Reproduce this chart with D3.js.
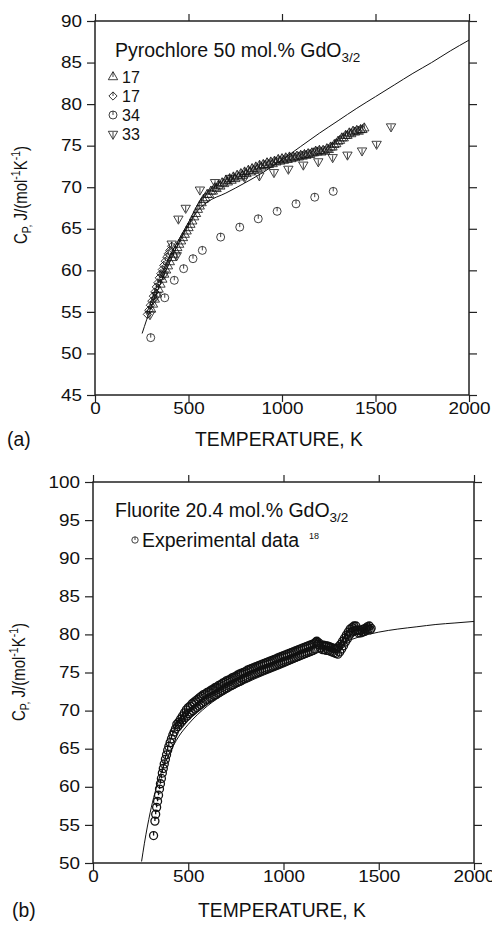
<!DOCTYPE html>
<html><head><meta charset="utf-8">
<script src="https://cdn.jsdelivr.net/npm/d3@7"></script>
<style>
html,body{margin:0;padding:0;background:#fff;}
svg{display:block;font-family:"Liberation Sans",Arial,Helvetica,sans-serif;}
</style></head>
<body>
<svg id="chart" width="492" height="925"></svg>
<script>
// ---------------- DATA ----------------
const xTicks = [0, 500, 1000, 1500, 2000];
const yTicksA = [45, 50, 55, 60, 65, 70, 75, 80, 85, 90];
const yTicksB = [50, 55, 60, 65, 70, 75, 80, 85, 90, 95, 100];

// (a) Pyrochlore 50 mol.% GdO3/2 — model curve [T, Cp]
const curveA = [[252,52.4],[300,55.6],[350,58.4],[400,61.0],[450,63.4],[500,65.5],[550,67.2],[600,68.2],[700,69.3],[800,70.5],[900,71.8],[1000,73.3],[1100,74.9],[1200,76.5],[1300,78.0],[1400,79.5],[1500,80.9],[1600,82.3],[1700,83.7],[1800,85.0],[1900,86.4],[2000,87.7]];
// ref 17 (up triangles)
const ref17tri = [[300,55.3],[310,55.9],[320,56.5],[330,57.1],[340,57.7],[350,58.3],[360,58.9],[370,59.5],[380,60.0],[390,60.5],[400,61.0],[410,61.5],[420,61.9],[430,62.3],[440,62.7],[450,63.1],[460,63.5],[470,63.9],[480,64.3],[490,64.7],[500,65.1],[510,65.5],[520,65.9],[530,66.4],[540,66.8],[550,67.3],[560,67.7],[570,68.1],[580,68.5],[590,68.7],[600,69.1],[610,69.1],[620,69.5],[630,69.5],[640,69.9],[650,69.8],[660,70.2],[670,70.1],[680,70.5],[690,70.4],[700,70.8],[710,70.6],[720,71.0],[730,70.8],[740,71.2],[750,71.0],[760,71.4],[770,71.2],[780,71.6],[790,71.4],[800,71.8],[810,71.6],[820,72.0],[830,71.8],[840,72.2],[850,72.0],[860,72.4],[870,72.2],[880,72.6],[890,72.4],[900,72.7],[910,72.6],[920,72.9],[930,72.7],[940,73.0],[950,72.8],[960,73.1],[970,73.0],[980,73.3],[990,73.1],[1000,73.4],[1010,73.2],[1020,73.5],[1030,73.3],[1040,73.6],[1050,73.4],[1060,73.6],[1070,73.5],[1080,73.7],[1090,73.6],[1100,73.8],[1110,73.7],[1120,73.9],[1130,73.8],[1140,74.0],[1150,73.9],[1160,74.1],[1170,74.1],[1180,74.3],[1190,74.2],[1200,74.4],[1210,74.2],[1220,74.4],[1230,74.3],[1240,74.6],[1250,74.5],[1260,74.8],[1270,74.8],[1280,75.1],[1290,75.2],[1300,75.5],[1310,75.6],[1320,75.9],[1330,75.9],[1340,76.2],[1350,76.2],[1360,76.5],[1370,76.4],[1380,76.7],[1390,76.6],[1400,76.8],[1410,76.7],[1420,76.9],[1430,76.9],[1440,77.1]];
// ref 17 (diamonds)
const ref17dia = [[280,54.7],[288,55.2],[296,55.8],[304,56.3],[312,56.9],[320,57.4],[328,58.0],[336,58.5],[344,59.1],[352,59.6],[360,60.1],[368,60.6],[376,61.1],[384,61.6],[392,62.0],[400,62.4],[410,62.9]];
// ref 34 (circles)
const ref34 = [[298,51.9],[373,56.7],[424,58.8],[474,60.2],[524,61.4],[574,62.4],[672,64.0],[774,65.2],[873,66.2],[974,67.1],[1075,68.0],[1175,68.8],[1274,69.5]];
// ref 33 (down triangles)
const ref33 = [[294,54.7],[330,57.0],[368,59.5],[410,63.2],[437,61.8],[446,66.2],[485,67.5],[561,69.7],[642,70.6],[722,71.1],[800,71.2],[879,71.4],[957,71.8],[1034,72.2],[1114,72.7],[1194,73.1],[1271,73.6],[1350,73.9],[1428,74.4],[1506,75.2],[1583,77.3]];

// (b) Fluorite 20.4 mol.% GdO3/2 — model curve
const curveB = [[255,50.2],[270,52.6],[300,56.6],[350,61.3],[400,64.3],[450,66.6],[500,68.2],[600,70.6],[700,72.3],[800,73.6],[900,74.7],[1000,75.7],[1100,76.8],[1200,77.8],[1300,78.8],[1400,79.7],[1500,80.3],[1600,80.7],[1700,81.0],[1800,81.3],[1900,81.5],[2000,81.7]];
// experimental data ref 18
const ref18 = [[318,53.6],[325,55.5],[329,56.4],[334,57.3],[339,58.1],[344,58.9],[349,59.7],[354,60.4],[359,61.1],[364,61.8],[369,62.4],[374,63.0],[380,63.6],[386,64.2],[392,64.8],[398,65.3],[405,65.8],[412,66.3],[419,66.8],[426,67.2],[433,67.6],
[440,68.2],[445,67.9],[450,68.5],[455,68.2],[460,68.9],[465,68.5],[470,69.3],[475,68.8],[480,69.7],[485,69.1],[490,70.1],[495,69.3],[500,70.4],[505,69.6],[510,70.6],[515,69.8],[520,70.9],[525,70.0],[530,71.1],[535,70.2],[540,71.3],[545,70.4],[550,71.5],[555,70.6],[560,71.7],[565,70.8],[570,71.9],[575,71.0],[580,72.1],[585,71.2],[590,72.2],[595,71.4],
[600,72.4],[605,71.5],[610,72.5],[615,71.7],[620,72.7],[625,71.8],[630,72.8],[635,72.0],[640,73.0],[645,72.1],[650,73.1],[655,72.3],[660,73.3],[665,72.4],[670,73.4],[675,72.6],[680,73.6],[685,72.7],[690,73.7],[695,72.9],[700,73.9],[705,73.0],[710,74.0],[715,73.2],[720,74.1],[725,73.3],[730,74.3],[735,73.4],[740,74.4],[745,73.6],[750,74.5],[755,73.7],[760,74.7],[765,73.8],[770,74.8],[775,73.9],[780,74.9],[785,74.1],[790,75.0],[795,74.2],
[800,75.1],[805,74.3],[810,75.3],[815,74.4],[820,75.4],[825,74.6],[830,75.5],[835,74.7],[840,75.6],[845,74.8],[850,75.7],[855,74.9],[860,75.8],[865,75.0],[870,75.9],[875,75.1],[880,76.0],[885,75.2],[890,76.1],[895,75.3],[900,76.2],[905,75.4],[910,76.3],[915,75.5],[920,76.4],[925,75.6],[930,76.5],[935,75.7],[940,76.6],[945,75.8],[950,76.7],[955,75.9],[960,76.8],[965,76.0],[970,76.9],[975,76.1],[980,77.0],[985,76.2],[990,77.1],[995,76.3],
[1000,77.2],[1005,76.4],[1010,77.3],[1015,76.5],[1020,77.4],[1025,76.6],[1030,77.5],[1035,76.7],[1040,77.6],[1045,76.8],[1050,77.7],[1055,76.9],[1060,77.8],[1065,77.0],[1070,77.9],[1075,77.1],[1080,78.0],[1085,77.2],[1090,78.1],[1095,77.3],[1100,78.2],[1105,77.4],[1110,78.3],[1115,77.5],[1120,78.4],[1125,77.6],[1130,78.5],[1135,77.7],[1140,78.6],[1145,77.8],[1150,78.7],[1155,77.9],
[1160,78.8],[1165,78.1],[1170,79.0],[1175,79.1],[1180,78.7],[1185,78.9],[1190,78.6],[1195,78.2],[1200,78.6],[1205,78.0],[1210,78.6],[1215,78.0],[1220,78.5],[1225,77.9],[1230,78.5],[1235,77.9],[1240,78.4],[1245,77.8],[1250,78.3],[1255,77.7],[1260,78.2],[1265,77.6],[1270,78.1],[1275,77.5],[1280,78.2],[1285,77.4],[1290,78.4],[1295,77.7],[1300,78.7],[1305,78.1],[1310,79.1],[1315,78.5],[1320,79.5],[1325,79.0],[1330,79.9],[1335,79.4],[1340,80.3],[1345,79.9],[1350,80.7],[1355,80.2],[1360,80.9],[1365,80.4],[1370,81.1],[1375,80.5],[1380,81.1],[1385,80.5],[1390,80.6],[1395,80.2],
[1400,80.5],[1405,80.2],[1410,80.6],[1415,80.3],[1420,80.7],[1425,80.4],[1430,80.8],[1435,80.6],[1440,81.0],[1445,80.7],[1450,81.1],[1455,80.6],[1460,80.8]];

// ---------------- DRAWING ----------------
const svg = d3.select("#chart");
const SX = 1.18; // horizontal stretch of tick labels

function stretchText(g) {
  g.selectAll(".tick text").attr("transform", `scale(${SX},1)`)
    .attr("x", function(){ const x = +d3.select(this).attr("x") || 0; return x / SX; });
}

function panel(o) {
  const x = d3.scaleLinear().domain([0, 2000]).range([o.x0, o.x1]);
  const y = d3.scaleLinear().domain(o.yDomain).range([o.y0, o.y1]);
  const g = svg.append("g");
  const TS = 7;
  const bx = g.append("g").attr("transform", `translate(0,${o.y0})`)
    .call(d3.axisBottom(x).tickValues(xTicks).tickSize(TS).tickPadding(1).tickSizeOuter(0).tickFormat(d3.format("d")));
  const tx = g.append("g").attr("transform", `translate(0,${o.y1})`)
    .call(d3.axisTop(x).tickValues(xTicks).tickSize(TS).tickSizeOuter(0).tickFormat(""));
  const ly = g.append("g").attr("transform", `translate(${o.x0},0)`)
    .call(d3.axisLeft(y).tickValues(o.yTicks).tickSize(8).tickPadding(5).tickSizeOuter(0));
  const ry = g.append("g").attr("transform", `translate(${o.x1},0)`)
    .call(d3.axisRight(y).tickValues(o.yTicks).tickSize(8).tickSizeOuter(0).tickFormat(""));
  [bx, tx, ly, ry].forEach(a => {
    a.select(".domain").remove();
    a.selectAll(".tick line").attr("stroke", "#222").attr("stroke-width", 1.2);
    a.selectAll(".tick text").attr("font-size", 16).attr("fill", "#111")
      .attr("font-family", '"Liberation Sans",Arial,sans-serif');
  });
  stretchText(bx); stretchText(ly);
  g.append("rect").attr("x", o.x0).attr("y", o.y1).attr("width", o.x1 - o.x0).attr("height", o.y0 - o.y1)
    .attr("fill", "none").attr("stroke", "#222").attr("stroke-width", 1.5);
  const cid = "clip" + o.id;
  svg.append("clipPath").attr("id", cid).append("rect")
    .attr("x", o.x0).attr("y", o.y1).attr("width", o.x1 - o.x0).attr("height", o.y0 - o.y1);
  const plot = g.append("g").attr("clip-path", `url(#${cid})`);
  g.append("text").attr("x", o.xTitleX).attr("y", o.xTitleY).attr("text-anchor", "middle")
    .attr("font-size", 19.3).attr("fill", "#111").text("TEMPERATURE, K");
  g.append("text").attr("x", o.labX).attr("y", o.xTitleY).attr("font-size", 19.3).attr("fill", "#111").text(o.lab);
  const yt = g.append("g").attr("transform", `translate(${o.yTitleX},${o.yTitleY}) scale(${SX},1) rotate(-90)`)
    .append("text").attr("text-anchor", "middle").attr("font-size", 15).attr("fill", "#111");
  yt.append("tspan").text("C");
  yt.append("tspan").attr("font-size", 10.5).attr("dy", 3).text("P,");
  yt.append("tspan").attr("dy", -3).text(" J/(mol");
  yt.append("tspan").attr("font-size", 10.5).attr("dy", -6).text("-1");
  yt.append("tspan").attr("dy", 6).text("K");
  yt.append("tspan").attr("font-size", 10.5).attr("dy", -6).text("-1");
  yt.append("tspan").attr("dy", 6).text(")");
  const t = g.append("text").attr("x", o.titleX).attr("y", o.titleY).attr("font-size", 19.5).attr("fill", "#111");
  t.append("tspan").text(o.title);
  t.append("tspan").attr("font-size", 13.5).attr("dy", 5).text("3/2");
  return {x, y, g, plot};
}

const A = panel({id:"a", x0:95, x1:469, y0:395, y1:21, yDomain:[45,90], yTicks:yTicksA,
  xTitleX:279, xTitleY:446, labX:7, lab:"(a)", yTitleX:27, yTitleY:195,
  titleX:115, titleY:57, title:"Pyrochlore 50 mol.% GdO"});
const B = panel({id:"b", x0:93, x1:474, y0:863, y1:482, yDomain:[50,100], yTicks:yTicksB,
  xTitleX:282, xTitleY:917, labX:12, lab:"(b)", yTitleX:25, yTitleY:672,
  titleX:115, titleY:517, title:"Fluorite 20.4 mol.% GdO"});

const triUp = d3.symbol().type(d3.symbolTriangle).size(38)();
const diamond = d3.symbol().type(d3.symbolSquare).size(34)();
function drawMarkers(layer, data, sx, sy, kind, sw) {
  const gg = layer.append("g").attr("fill", "none").attr("stroke", "#111").attr("stroke-width", sw || 0.8);
  data.forEach(d => {
    const px = sx(d[0]), py = sy(d[1]);
    const m = gg.append("g").attr("transform", `translate(${px},${py})`);
    if (kind === "circle") {
      m.append("circle").attr("r", 4);
      m.append("line").attr("x1", 0).attr("x2", 0).attr("y1", -4).attr("y2", 0);
    } else if (kind === "small") {
      m.append("circle").attr("r", 3.2);
      m.append("line").attr("x1", 0).attr("x2", 0).attr("y1", -3.2).attr("y2", 0);
    } else if (kind === "up") {
      m.append("path").attr("d", triUp);
      m.append("line").attr("x1", 0).attr("x2", 0).attr("y1", -5).attr("y2", 0);
    } else if (kind === "down") {
      m.append("path").attr("d", triUp).attr("transform", "rotate(180)");
      m.append("line").attr("x1", 0).attr("x2", 0).attr("y1", -2).attr("y2", 4);
    } else if (kind === "diamond") {
      m.append("path").attr("d", diamond).attr("transform", "rotate(45)");
      m.append("line").attr("x1", 0).attr("x2", 0).attr("y1", -4).attr("y2", 0);
    }
  });
}

// (a) data
const lineA = d3.line().x(d => A.x(d[0])).y(d => A.y(d[1])).curve(d3.curveMonotoneX);
drawMarkers(A.plot, ref34, A.x, A.y, "circle");
drawMarkers(A.plot, ref17dia, A.x, A.y, "diamond");
drawMarkers(A.plot, ref17tri, A.x, A.y, "up");
drawMarkers(A.plot, ref33, A.x, A.y, "down");
A.plot.append("path").attr("d", lineA(curveA)).attr("fill", "none").attr("stroke", "#111").attr("stroke-width", 1);

const legA = [{k:"up", t:"17", y:77}, {k:"diamond", t:"17", y:96}, {k:"circle", t:"34", y:115}, {k:"down", t:"33", y:134}];
legA.forEach(L => {
  drawMarkers(A.g, [[113, L.y]], d3.scaleIdentity(), d3.scaleIdentity(), L.k);
  A.g.append("text").attr("x", 122).attr("y", L.y + 5.5).attr("font-size", 16).attr("fill", "#111").text(L.t);
});

// (b) data
const lineB = d3.line().x(d => B.x(d[0])).y(d => B.y(d[1])).curve(d3.curveMonotoneX);
drawMarkers(B.plot, ref18, B.x, B.y, "circle", 1.3);
B.plot.append("path").attr("d", lineB(curveB)).attr("fill", "none").attr("stroke", "#111").attr("stroke-width", 1);

drawMarkers(B.g, [[135, 540]], d3.scaleIdentity(), d3.scaleIdentity(), "small");
B.g.append("text").attr("x", 142).attr("y", 547).attr("font-size", 19.5).attr("fill", "#111").text("Experimental data");
B.g.append("text").attr("x", 309).attr("y", 539).attr("font-size", 9).attr("fill", "#111").text("18");
</script>
</body></html>
